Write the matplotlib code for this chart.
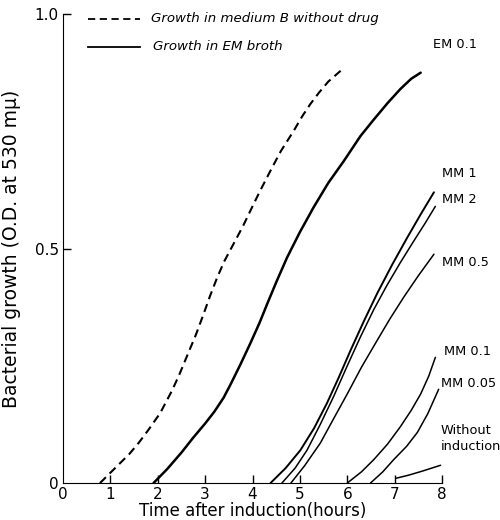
import numpy as np
import matplotlib
matplotlib.use("Agg")
import matplotlib.pyplot as plt

# growth curves (hours, O.D. at 530 mu)
dash_t = [0.78, 1.0, 1.2, 1.4, 1.6, 1.8, 2.05, 2.3, 2.45, 2.61, 2.8, 2.97, 3.1, 3.25, 3.4, 3.6,
          3.8, 4.0, 4.16, 4.4, 4.6, 4.87, 5.05, 5.22, 5.4, 5.6, 5.86]
dash_y = [0.0, 0.022, 0.042, 0.062, 0.086, 0.113, 0.149, 0.197, 0.23, 0.269, 0.315, 0.361, 0.398,
          0.437, 0.472, 0.51, 0.548, 0.59, 0.623, 0.67, 0.708, 0.751, 0.782, 0.808, 0.832, 0.856, 0.879]

em_t = [1.91, 2.2, 2.5, 2.75, 3.0, 3.2, 3.39, 3.55, 3.75, 3.95, 4.15, 4.31, 4.5, 4.73, 5.0, 5.29,
        5.6, 5.93, 6.28, 6.56, 6.85, 7.12, 7.35, 7.55]
em_y = [0.0, 0.03, 0.065, 0.097, 0.127, 0.153, 0.182, 0.213, 0.254, 0.297, 0.342, 0.382, 0.428,
        0.481, 0.535, 0.588, 0.64, 0.687, 0.74, 0.775, 0.81, 0.84, 0.862, 0.875]

mm1_t = [4.38, 4.7, 5.01, 5.3, 5.57, 5.82, 6.07, 6.35, 6.63, 6.95, 7.27, 7.55, 7.83]
mm1_y = [0.0, 0.032, 0.07, 0.117, 0.17, 0.225, 0.283, 0.345, 0.404, 0.466, 0.524, 0.573, 0.62]

mm2_t = [4.62, 4.9, 5.15, 5.43, 5.71, 6.0, 6.28, 6.56, 6.84, 7.12, 7.41, 7.65, 7.86]
mm2_y = [0.0, 0.032, 0.07, 0.125, 0.184, 0.25, 0.312, 0.37, 0.422, 0.47, 0.517, 0.555, 0.59]

mm05_t = [4.81, 5.1, 5.43, 5.7, 6.0, 6.3, 6.63, 6.9, 7.19, 7.5, 7.83]
mm05_y = [0.0, 0.037, 0.085, 0.135, 0.19, 0.247, 0.304, 0.35, 0.396, 0.442, 0.488]

mm01_t = [6.0, 6.3, 6.56, 6.85, 7.12, 7.35, 7.55, 7.72, 7.86]
mm01_y = [0.0, 0.024, 0.05, 0.083, 0.12, 0.155, 0.19, 0.228, 0.268]

mm005_t = [6.49, 6.75, 6.98, 7.25, 7.48, 7.7, 7.93]
mm005_y = [0.0, 0.024, 0.05, 0.078, 0.108, 0.148, 0.2]

wo_t = [7.02, 7.3, 7.6, 7.97]
wo_y = [0.01, 0.017, 0.026, 0.038]

curve_labels = ["EM 0.1", "MM 1", "MM 2", "MM 0.5", "MM 0.1", "MM 0.05", "Without\ninduction"]
label_x = [7.8, 8.0, 8.0, 8.0, 8.05, 7.98, 7.98]
label_y = [0.935, 0.66, 0.605, 0.47, 0.28, 0.213, 0.095]

fig = plt.figure(figsize=(5, 5.2), dpi=100)
ax = fig.add_axes([0.126, 0.071, 0.758, 0.902])

kw = dict(color="black", solid_joinstyle="round", solid_capstyle="round")
ax.plot(dash_t, dash_y, color="black", lw=1.5, ls=(0, (4, 2.5)))
ax.plot(em_t, em_y, lw=1.8, **kw)
ax.plot(mm1_t, mm1_y, lw=1.4, **kw)
ax.plot(mm2_t, mm2_y, lw=1.1, **kw)
ax.plot(mm05_t, mm05_y, lw=1.1, **kw)
ax.plot(mm01_t, mm01_y, lw=1.1, **kw)
ax.plot(mm005_t, mm005_y, lw=1.1, **kw)
ax.plot(wo_t, wo_y, lw=1.1, **kw)

for lab, lx, ly in zip(curve_labels, label_x, label_y):
    ax.text(lx, ly, lab, fontsize=9.3, va="center", ha="left", linespacing=1.25)

# legend drawn by hand, like the original figure
ax.plot([0.53, 1.62], [0.99, 0.99], color="black", lw=1.3, ls=(0, (4, 2.5)), clip_on=False)
ax.text(1.85, 0.99, "Growth in medium B without drug", fontsize=9.6, style="italic", va="center")
ax.plot([0.53, 1.62], [0.93, 0.93], color="black", lw=1.3, clip_on=False)
ax.text(1.9, 0.93, "Growth in EM broth", fontsize=9.6, style="italic", va="center")

ax.set_xlim(0, 8)
ax.set_ylim(0, 1.0)
ax.spines["top"].set_visible(False)
ax.spines["right"].set_visible(False)
ax.set_xticks(range(0, 9))
ax.set_xticklabels([str(i) for i in range(0, 9)], fontsize=11)
ax.set_yticks([0, 0.5, 1.0])
ax.set_yticklabels(["0", "0.5", "1.0"], fontsize=11)
ax.tick_params(direction="in", length=6, width=1, pad=3)
ax.xaxis.get_major_ticks()[0].tick1line.set_visible(False)
ax.yaxis.get_major_ticks()[0].tick1line.set_visible(False)

ax.set_xlabel("Time after induction(hours)", fontsize=12, labelpad=0)
ax.set_ylabel("Bacterial growth (O.D. at 530 m\u03bc)", fontsize=13.5, labelpad=10)

fig.savefig("out.png", dpi=100)
